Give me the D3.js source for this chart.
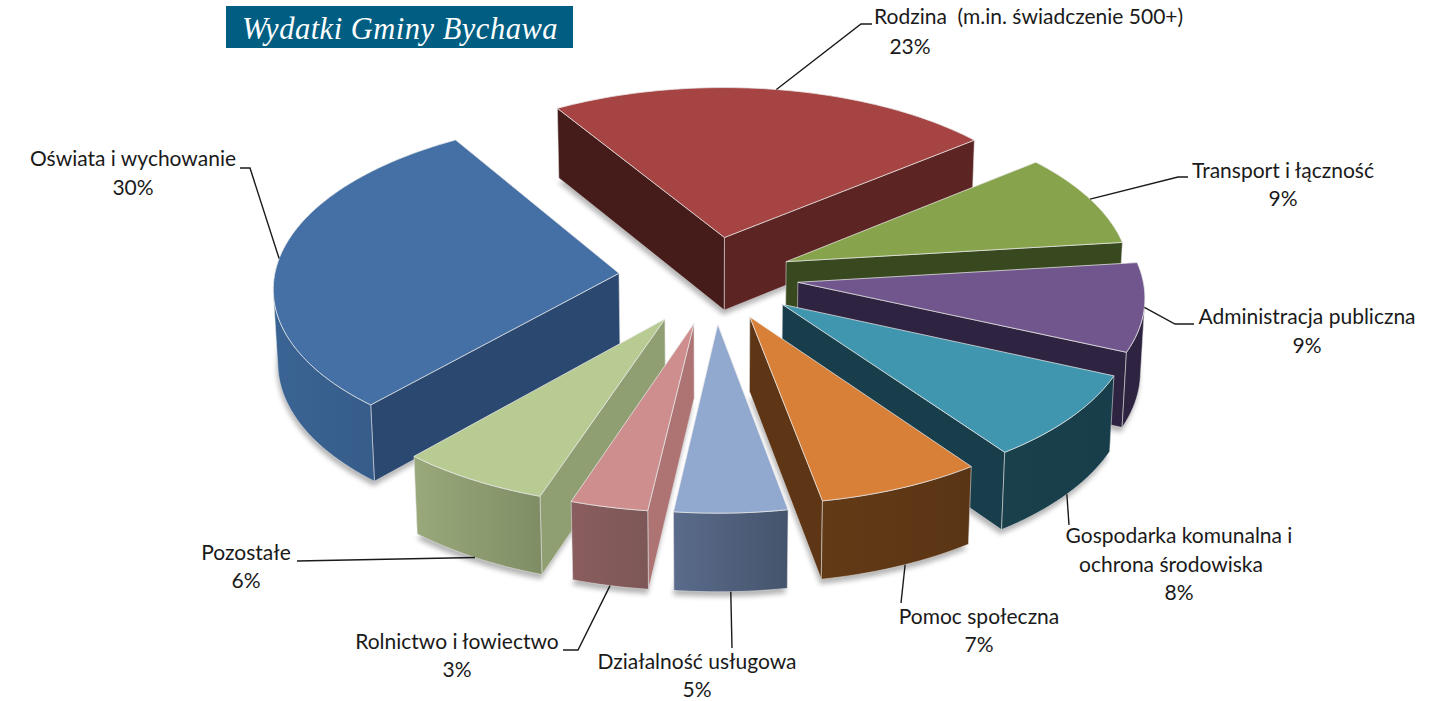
<!DOCTYPE html>
<html>
<head>
<meta charset="utf-8">
<script src="https://d3js.org/d3.v7.min.js"></script>
<style>
  html, body { margin: 0; padding: 0; background: #fff; }
  text { font-family: Lato, "Open Sans", sans-serif; font-size: 21px; fill: #1a1a1a; }
  .title { font-family: "Liberation Serif", serif; font-style: italic; font-size: 30.5px; fill: #fff; letter-spacing: 0.5px; }
</style>
</head>
<body>
<svg id="chart" width="1453" height="701"></svg>
<script>
// chart data, clockwise from the top
var categories = ["Rodzina", "Transport i łączność", "Administracja publiczna", "Gospodarka komunalna", "Pomoc społeczna", "Działalność usługowa", "Rolnictwo i łowiectwo", "Pozostałe", "Oświata i wychowanie"];
var shares = [22.8, 9.0, 8.5, 8.4, 7.0, 4.8, 3.3, 6.4, 29.6];

// label text lines
var labelLines = [
  ["Rodzina \u00a0(m.in. świadczenie 500+)", "23%"],
  ["Transport i łączność", "9%"],
  ["Administracja publiczna", "9%"],
  ["Gospodarka komunalna i", "ochrona środowiska", "8%"],
  ["Pomoc społeczna", "7%"],
  ["Działalność usługowa", "5%"],
  ["Rolnictwo i łowiectwo", "3%"],
  ["Pozostałe", "6%"],
  ["Oświata i wychowanie", "30%"]
];

// colours: top face, first cut wall, second cut wall, outer wall left and right
var topColors = ["#a54442", "#87a44d", "#71568e", "#3f96ae", "#d87f38", "#92a9cf", "#cd8e8d", "#b7cb92", "#4470a6"];
var cutColorsA = ["#451c19", "#39491f", "#2e2340", "#173e4a", "#5e3615", "#4d5d78", "#ad7473", "#8f9f72", "#2b4870"];
var cutColorsB = ["#5c2423", "#39491f", "#2e2340", "#173e4a", "#5e3615", "#4d5d78", "#ad7473", "#8f9f72", "#2b4870"];
var wallLeft = ["#5c2423", "#39491f", "#2e2340", "#1a404c", "#633a16", "#5a6b8b", "#8a5d5e", "#99a97a", "#3a6494"];
var wallRight = ["#5c2423", "#39491f", "#2e2340", "#173e4a", "#5a3515", "#45546c", "#7d5757", "#7f8d65", "#365c8a"];

// how far each slice is pulled out of the pie, and how many degrees that pull turns off the slice's middle
var explode = [88, 82, 85, 86, 85, 92, 92, 94, 95];
var explodeTurn = [-2, -3, -4, -2, -2, -1, -1, 0, 2];

// layout of labels and leaders: [x, y] of text, anchor, the leader's bend points, and its start in degrees off the slice's middle
var labelLayout = [
  { lines: [[874, 24, "start"], [910, 54, "middle"]], bend: [[861, 24], [872, 24]], bottom: false, shift: 0 },
  { lines: [[1283, 178, "middle"], [1283, 206, "middle"]], bend: [[1178, 177], [1188, 177]], bottom: false, shift: 0 },
  { lines: [[1307, 324, "middle"], [1307, 353, "middle"]], bend: [[1175, 324], [1194, 324]], bottom: false, shift: 0 },
  { lines: [[1179, 543, "middle"], [1171, 572, "middle"], [1179, 600, "middle"]], bend: [[1069, 525]], bottom: true, shift: 0 },
  { lines: [[979, 624, "middle"], [979, 652, "middle"]], bend: [[901, 603]], bottom: true, shift: -1 },
  { lines: [[697, 669, "middle"], [697, 697, "middle"]], bend: [[732, 648]], bottom: true, shift: 0 },
  { lines: [[457, 649, "middle"], [457, 677, "middle"]], bend: [[578, 650], [563, 650]], bottom: true, shift: 0 },
  { lines: [[246, 560, "middle"], [246, 588, "middle"]], bend: [[297, 561]], bottom: true, shift: 0 },
  { lines: [[133, 166, "middle"], [133, 195, "middle"]], bend: [[250, 168], [240, 168]], bottom: false, shift: 0 }
];

// view of the pie
var centerX = 713, centerY = 279;
var radius = 345, depth = 85;
var tilt = 29 * Math.PI / 180, focal = 4000;
var arcStep = 1.5 * Math.PI / 180;

var svg = d3.select("#chart");
var defs = svg.append("defs");
defs.append("filter").attr("id", "soft")
    .attr("x", "-10%").attr("y", "-10%").attr("width", "120%").attr("height", "120%")
  .append("feGaussianBlur").attr("stdDeviation", 2.5);

// title banner
svg.append("rect").attr("x", 226).attr("y", 6).attr("width", 347).attr("height", 42).attr("fill", "#005e82");
svg.append("text").attr("class", "title").attr("x", 400).attr("y", 39).attr("text-anchor", "middle").text("Wydatki Gminy Bychawa");

function project(x, y, z)
{
  var p = focal / (focal + y * Math.cos(tilt) - z * Math.sin(tilt));
  return [centerX + x * p, centerY - (y * Math.sin(tilt) + z * Math.cos(tilt)) * p];
}

// positive when a wall, listed clockwise from above, faces the viewer
function facing(points)
{
  return d3.polygonArea(points) > 0;
}

var line = d3.line();
var pie = d3.pie().sort(null)
    .startAngle(-31.5 * Math.PI / 180)
    .endAngle(328.5 * Math.PI / 180);

var slices = pie(shares).map(function(d, i) {
  var mid = (d.startAngle + d.endAngle) / 2;
  var pull = mid + explodeTurn[i] * Math.PI / 180;
  var ox = explode[i] * Math.sin(pull), oy = explode[i] * Math.cos(pull);
  var angles = d3.range(d.startAngle, d.endAngle, arcStep).concat([d.endAngle]);
  return {
    index: i,
    mid: mid,
    angles: angles,
    apex: function(z) { return project(ox, oy, z); },
    rim: function(a, z) { return project(ox + radius * Math.sin(a), oy + radius * Math.cos(a), z); },
    sortKey: oy + radius * 0.6 * Math.cos(mid)
  };
});

// far slices are painted first
slices.sort(function(a, b) { return b.sortKey - a.sortKey; });

var pieGroup = svg.append("g");

slices.forEach(function(s) {
  var i = s.index;
  var g = pieGroup.append("g");

  // shadow
  var shadow = [s.apex(-depth - 3)].concat(s.angles.map(function(a) { return s.rim(a, -depth - 3); }));
  g.append("path").attr("d", line(shadow) + "Z")
      .attr("fill", "#777").attr("opacity", 0.55)
      .attr("transform", "translate(-1,2)")
      .attr("filter", "url(#soft)");

  // the two straight walls
  var first = s.angles[0], last = s.angles[s.angles.length - 1];
  var cutA = [s.apex(0), s.rim(first, 0), s.rim(first, -depth), s.apex(-depth)];
  var cutB = [s.rim(last, 0), s.apex(0), s.apex(-depth), s.rim(last, -depth)];
  [[cutA, cutColorsA[i]], [cutB, cutColorsB[i]]].forEach(function(w) {
    if (facing(w[0]))
    {
      g.append("path").attr("d", line(w[0]) + "Z")
          .attr("fill", w[1])
          .attr("stroke", "#e4e4e4").attr("stroke-width", 0.8).attr("stroke-opacity", 0.7);
    }
  });

  // the curved wall, only the steps that face the viewer
  var tops = [], bottoms = [];
  for (var k = 0; k < s.angles.length - 1; k++)
  {
    var quad = [s.rim(s.angles[k], 0), s.rim(s.angles[k + 1], 0), s.rim(s.angles[k + 1], -depth), s.rim(s.angles[k], -depth)];
    if (facing(quad))
    {
      if (!tops.length) { tops.push(quad[0]); bottoms.push(quad[3]); }
      tops.push(quad[1]);
      bottoms.push(quad[2]);
    }
  }
  if (tops.length)
  {
    var wall = tops.concat(bottoms.reverse());
    var xs = d3.extent(wall, function(p) { return p[0]; });
    var grad = defs.append("linearGradient").attr("id", "wall" + i)
        .attr("gradientUnits", "userSpaceOnUse")
        .attr("x1", xs[0]).attr("x2", xs[1]).attr("y1", 0).attr("y2", 0);
    grad.append("stop").attr("offset", 0).attr("stop-color", wallLeft[i]);
    grad.append("stop").attr("offset", 1).attr("stop-color", wallRight[i]);
    g.append("path").attr("d", line(wall) + "Z")
        .attr("fill", "url(#wall" + i + ")")
        .attr("stroke", "#e4e4e4").attr("stroke-width", 0.8).attr("stroke-opacity", 0.7);
  }

  // top face
  var face = [s.apex(0)].concat(s.angles.map(function(a) { return s.rim(a, 0); }));
  g.append("path").attr("d", line(face) + "Z")
      .attr("fill", topColors[i])
      .attr("stroke", "#e8e8e8").attr("stroke-width", 1).attr("stroke-opacity", 0.75);
});

// leaders and labels
var byIndex = [];
slices.forEach(function(s) { byIndex[s.index] = s; });

labelLayout.forEach(function(l, i) {
  var s = byIndex[i];
  var start = s.rim(s.mid + l.shift * Math.PI / 180, l.bottom ? -depth : 0);
  svg.append("path").attr("d", line([start].concat(l.bend)))
      .attr("fill", "none").attr("stroke", "#1a1a1a").attr("stroke-width", 1.4);
  labelLines[i].forEach(function(t, j) {
    svg.append("text")
        .attr("x", l.lines[j][0]).attr("y", l.lines[j][1])
        .attr("text-anchor", l.lines[j][2])
        .text(t);
  });
});
</script>
</body>
</html>
